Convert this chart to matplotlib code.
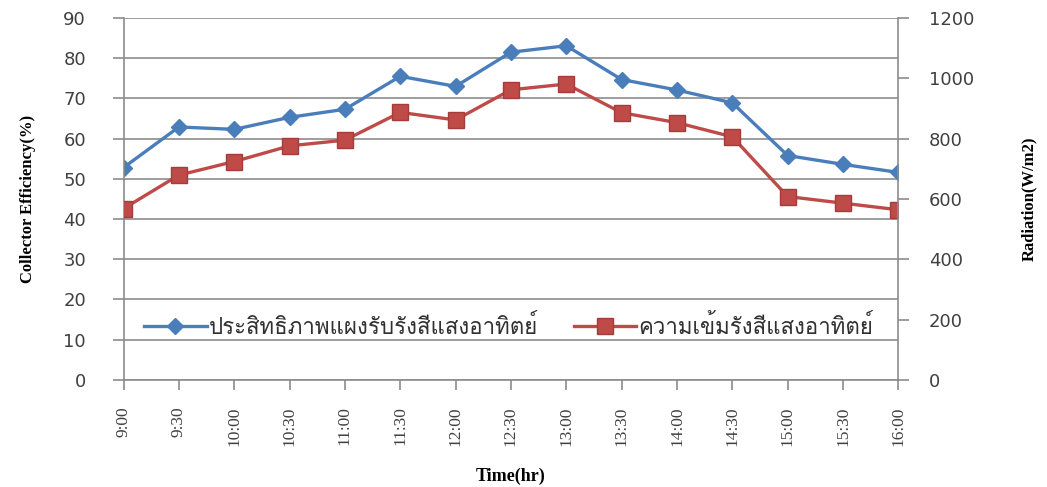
import matplotlib
matplotlib.use('Agg')
import matplotlib.pyplot as plt
from matplotlib import font_manager
from fontTools.ttLib import TTFont

times = ['9:00', '9:30', '10:00', '10:30', '11:00', '11:30', '12:00', '12:30',
         '13:00', '13:30', '14:00', '14:30', '15:00', '15:30', '16:00']
efficiency = [52.8, 62.9, 62.3, 65.3, 67.3, 75.5, 73.0, 81.5,
              83.1, 74.7, 72.1, 68.9, 55.8, 53.6, 51.6]
radiation = [568, 679, 724, 776, 795, 887, 862, 962,
             981, 886, 853, 806, 608, 586, 564]
eff_label = 'ประสิทธิภาพแผงรับรังสีแสงอาทิตย์'
rad_label = 'ความเข้มรังสีแสงอาทิตย์'


def thai_font():
    # look for any installed font that has Thai glyphs
    for f in font_manager.fontManager.ttflist:
        try:
            cmap = TTFont(f.fname, fontNumber=0, lazy=True).getBestCmap()
        except Exception:
            continue
        if cmap and 0x0E1B in cmap and 0x0E34 in cmap:
            return f.name
    return 'DejaVu Sans'


thai = thai_font()
blue = '#4a7ebb'
red = '#be4b48'
grid_c = '#8c8c8c'
tick_c = '#404040'

fig = plt.figure(figsize=(10.47, 4.87), dpi=100)
ax = fig.add_axes([0.118, 0.22, 0.740, 0.743])
ax2 = ax.twinx()

x = list(range(len(times)))
l1, = ax.plot(x, efficiency, color=blue, lw=2.4, marker='D', ms=8,
              mfc=blue, mec=blue, label=eff_label)
l2, = ax2.plot(x, radiation, color=red, lw=2.4, marker='s', ms=11,
               mfc=red, mec='#a33c3a', mew=1, label=rad_label)

ax.set_xlim(0, len(times) - 1)
ax.set_ylim(0, 90)
ax.set_yticks(range(0, 91, 10))
ax2.set_ylim(0, 1200)
ax2.set_yticks(range(0, 1201, 200))
ax.grid(axis='y', color=grid_c, lw=1.2)
ax.set_axisbelow(True)

ax.set_xticks(x)
ax.set_xticklabels(times, rotation=90, family='Liberation Serif', fontsize=12.5,
                   color=tick_c)
for a in (ax, ax2):
    a.tick_params(axis='y', labelsize=13, labelcolor=tick_c, color=grid_c,
                  length=8, width=1.2)
    for s in a.spines.values():
        s.set_visible(False)
ax.tick_params(axis='y', pad=19)
ax2.tick_params(axis='y', pad=14)
ax.tick_params(axis='x', color=grid_c, length=7, width=1.2, pad=12)
ax.spines['left'].set_visible(True)
ax.spines['bottom'].set_visible(True)
ax2.spines['right'].set_visible(True)
for s in (ax.spines['left'], ax.spines['bottom'], ax2.spines['right']):
    s.set_color(grid_c)
    s.set_linewidth(1.2)

ax.set_ylabel('Collector Efficiency(%)', family='Liberation Serif',
              fontweight='bold', fontsize=12, labelpad=20)
ax2.set_ylabel('Radiation(W/m2)', family='Liberation Serif',
               fontweight='bold', fontsize=12, labelpad=34)
ax.set_xlabel('Time(hr)', family='Liberation Serif', fontweight='bold',
              fontsize=13, labelpad=16)

ax.legend([l1, l2], [eff_label, rad_label], loc='center',
          bbox_to_anchor=(0.497, 0.146), ncol=2, frameon=False,
          handlelength=2.8, columnspacing=1.6, handletextpad=0.1,
          prop={'family': [thai, 'DejaVu Sans'], 'size': 16},
          labelcolor='#303030')

fig.savefig('out.png', dpi=100)
